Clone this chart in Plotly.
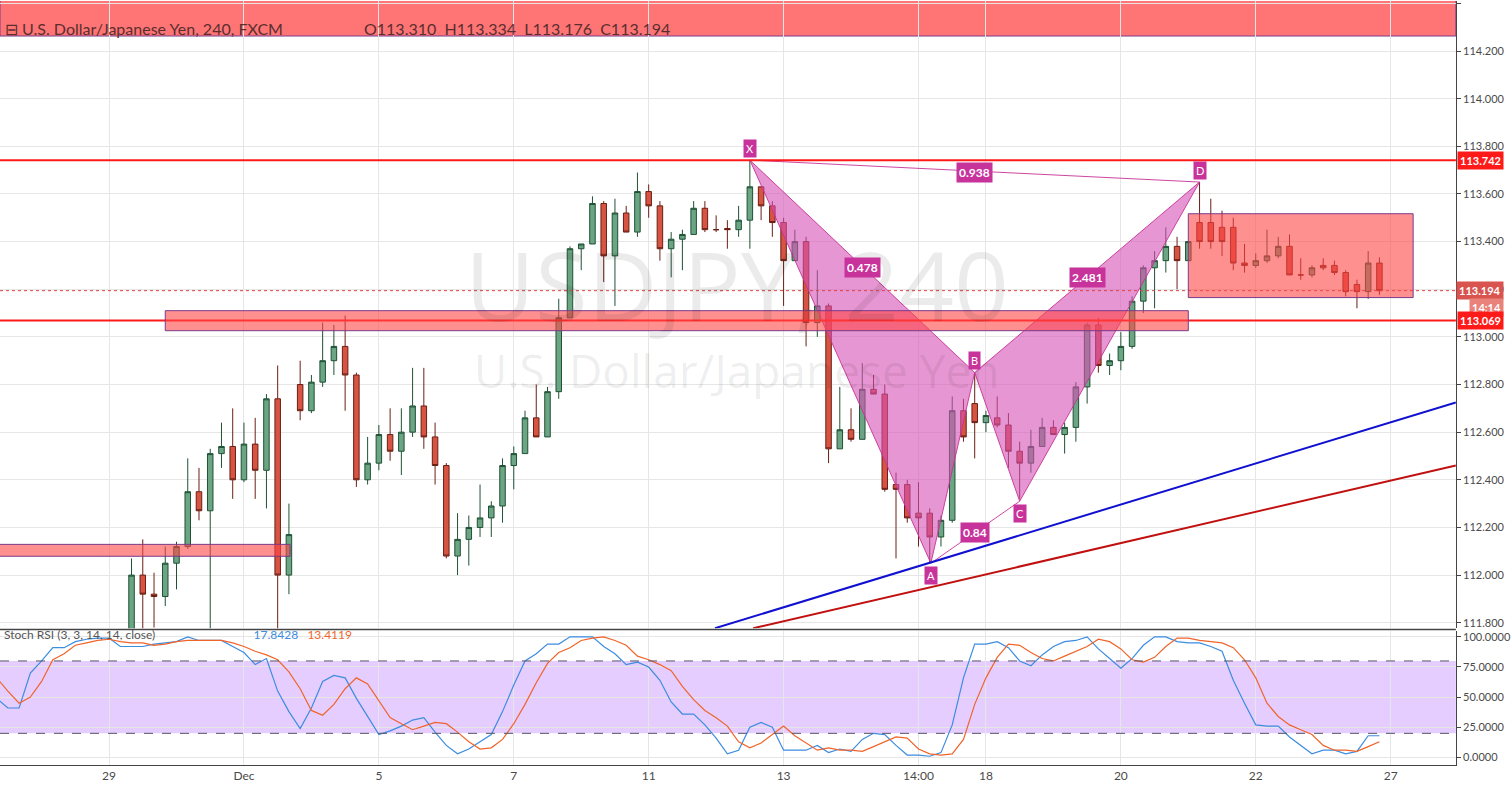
import plotly.graph_objects as go

# 4h candles, index 0 = first visible bar (29 Nov)
opens = [111.72, 112.00, 111.92, 111.91, 112.05, 112.12, 112.35, 112.27, 112.51, 112.54,
         112.40, 112.55, 112.44, 112.74, 112.00, 112.80, 112.69, 112.81, 112.90, 112.96,
         112.84, 112.40, 112.47, 112.59, 112.52, 112.60, 112.71, 112.58, 112.46, 112.08,
         112.15, 112.20, 112.24, 112.29, 112.46, 112.51, 112.66, 112.58, 112.77, 113.08,
         113.37, 113.39, 113.56, 113.34, 113.52, 113.44, 113.61, 113.55, 113.37, 113.41,
         113.43, 113.54, 113.45, 113.455, 113.45, 113.49, 113.63, 113.55, 113.48, 113.32,
         113.40, 113.06, 113.13, 112.53, 112.61, 112.57, 112.78, 112.76, 112.38, 112.38,
         112.26, 112.26, 112.16, 112.23, 112.69, 112.72, 112.64, 112.66, 112.63, 112.52,
         112.47, 112.54, 112.62, 112.59, 112.62, 112.79, 113.05, 112.88, 112.90, 112.96,
         113.15, 113.29, 113.32, 113.38, 113.32, 113.48, 113.48, 113.46, 113.46, 113.31,
         113.30, 113.32, 113.34, 113.38, 113.26, 113.26, 113.30, 113.30, 113.27, 113.22,
         113.19, 113.31]
highs = [112.07, 112.15, 112.01, 112.12, 112.14, 112.49, 112.45, 112.53, 112.64, 112.70,
         112.64, 112.66, 112.76, 112.88, 112.30, 112.90, 112.84, 113.06, 113.05, 113.09,
         112.85, 112.58, 112.63, 112.70, 112.70, 112.87, 112.87, 112.64, 112.47, 112.26,
         112.25, 112.38, 112.31, 112.49, 112.54, 112.69, 112.80, 112.79, 113.16, 113.38,
         113.39, 113.59, 113.57, 113.58, 113.55, 113.69, 113.64, 113.57, 113.44, 113.45,
         113.57, 113.57, 113.51, 113.49, 113.55, 113.742, 113.63, 113.57, 113.50, 113.45,
         113.42, 113.28, 113.14, 112.79, 112.70, 112.89, 112.84, 112.80, 112.43, 112.40,
         112.39, 112.28, 112.25, 112.75, 112.74, 112.85, 112.69, 112.75, 112.68, 112.56,
         112.61, 112.66, 112.65, 112.64, 112.81, 113.06, 113.08, 112.93, 113.02, 113.17,
         113.30, 113.36, 113.46, 113.42, 113.40, 113.65, 113.58, 113.53, 113.50, 113.39,
         113.35, 113.45, 113.42, 113.43, 113.33, 113.30, 113.33, 113.32, 113.28, 113.24,
         113.36, 113.334]
lows = [111.60, 111.70, 111.78, 111.87, 111.94, 112.11, 112.23, 111.70, 112.45, 112.32,
        112.39, 112.32, 112.28, 111.70, 111.92, 112.65, 112.68, 112.79, 112.84, 112.69,
        112.37, 112.38, 112.44, 112.48, 112.42, 112.58, 112.53, 112.38, 112.07, 112.00,
        112.04, 112.16, 112.16, 112.22, 112.36, 112.51, 112.58, 112.58, 112.74, 113.08,
        113.28, 113.39, 113.23, 113.13, 113.44, 113.42, 113.50, 113.32, 113.25, 113.28,
        113.43, 113.44, 113.44, 113.37, 113.42, 113.37, 113.49, 113.42, 113.13, 113.32,
        112.96, 113.00, 112.47, 112.53, 112.56, 112.57, 112.76, 112.35, 112.07, 112.22,
        112.12, 112.05, 112.12, 112.22, 112.56, 112.49, 112.60, 112.62, 112.45, 112.32,
        112.43, 112.54, 112.59, 112.51, 112.56, 112.72, 112.85, 112.84, 112.86, 112.95,
        113.10, 113.12, 113.27, 113.20, 113.32, 113.37, 113.37, 113.34, 113.28, 113.27,
        113.29, 113.31, 113.33, 113.26, 113.24, 113.25, 113.28, 113.26, 113.17, 113.12,
        113.16, 113.176]
closes = [112.00, 111.92, 111.91, 112.05, 112.12, 112.35, 112.27, 112.51, 112.54, 112.40,
          112.55, 112.44, 112.74, 112.00, 112.17, 112.69, 112.81, 112.90, 112.96, 112.84,
          112.40, 112.47, 112.59, 112.52, 112.60, 112.71, 112.58, 112.46, 112.08, 112.15,
          112.20, 112.24, 112.29, 112.46, 112.51, 112.66, 112.58, 112.77, 113.08, 113.37,
          113.39, 113.56, 113.34, 113.52, 113.44, 113.61, 113.55, 113.37, 113.41, 113.43,
          113.54, 113.45, 113.45, 113.45, 113.49, 113.63, 113.55, 113.48, 113.32, 113.40,
          113.06, 113.13, 112.53, 112.61, 112.57, 112.78, 112.76, 112.36, 112.36, 112.24,
          112.24, 112.16, 112.23, 112.69, 112.58, 112.64, 112.67, 112.63, 112.52, 112.47,
          112.54, 112.62, 112.59, 112.62, 112.79, 113.05, 112.88, 112.90, 112.96, 113.15,
          113.29, 113.32, 113.38, 113.32, 113.40, 113.40, 113.40, 113.40, 113.31, 113.30,
          113.32, 113.34, 113.38, 113.26, 113.26, 113.29, 113.29, 113.27, 113.19, 113.19,
          113.31, 113.194]
bar_idx = list(range(len(opens)))

# stochastic RSI (K blue, D orange), sampled at bar index
stoch_idx = list(range(-12, 112))
stoch_k = [49, 41, 41, 70, 80, 91, 91, 96, 98, 99, 99, 92, 92, 92, 94, 95, 96, 100, 97, 97,
           97, 92, 87, 77, 82, 55, 38, 24, 41, 63, 68, 66, 49, 34, 19, 22, 26, 31, 33, 21,
           10, 3, 7, 13, 19, 38, 60, 80, 86, 94, 94, 100, 100, 100, 92, 86, 77, 79, 75, 64,
           46, 36, 36, 27, 16, 3, 6, 25, 29, 25, 6, 6, 6, 10, 4, 7, 5, 15, 20, 19,
           10, 2, 2, 1, 4, 27, 66, 94, 94, 96, 91, 80, 76, 85, 92, 96, 97, 100, 90, 82,
           74, 82, 93, 100, 100, 96, 95, 95, 92, 88, 64, 45, 27, 26, 26, 17, 10, 3, 6, 6,
           3, 5, 18, 18]
stoch_d = [66, 55, 45, 50, 63, 81, 86, 93, 95, 97, 98, 96, 95, 95, 93, 94, 96, 97, 97, 97,
           97, 95, 92, 88, 85, 81, 71, 57, 39, 35, 44, 57, 66, 61, 47, 33, 28, 23, 26, 29,
           28, 21, 13, 7, 8, 15, 28, 44, 62, 78, 87, 91, 97, 99, 100, 97, 93, 84, 81, 77,
           72, 59, 48, 39, 33, 26, 13, 8, 12, 19, 26, 18, 12, 6, 8, 6, 6, 5, 9, 13,
           17, 16, 7, 3, 2, 3, 15, 44, 66, 83, 94, 93, 87, 82, 80, 84, 88, 92, 98, 96,
           90, 81, 79, 83, 92, 99, 99, 97, 96, 95, 91, 81, 66, 45, 34, 27, 23, 19, 10, 6,
           6, 5, 9, 13]

# harmonic pattern points
pat_names = ["X", "A", "B", "C", "D"]
pat_idx = [55, 71.1, 75, 79, 95]
pat_price = [113.742, 112.05, 112.85, 112.31, 113.65]

# levels / trend lines
res_level = 113.742
sup_level = 113.069
last_close = 113.194
blue_idx, blue_px = [51.9, 117.8], [111.777, 112.725]
red_idx, red_px = [55.3, 117.8], [111.777, 112.46]

date_ticks = [-2, 10, 22, 34, 46, 58, 70, 76, 88, 100, 112]
date_labels = ["29", "Dec", "5", "7", "11", "13", "14:00", "18", "20", "22", "27"]
price_ticks = [round(111.8 + 0.2 * k, 1) for k in range(14)]

GRID = "#e6e6e6"
PINK = "#c8329b"
fig = go.Figure()

fig.add_trace(go.Candlestick(
    x=bar_idx, open=opens, high=highs, low=lows, close=closes,
    increasing=dict(line=dict(color="#1f5135", width=1), fillcolor="#6ba583"),
    decreasing=dict(line=dict(color="#6b1f14", width=1), fillcolor="#d75442"),
    whiskerwidth=0, showlegend=False, hoverinfo="skip", xaxis="x", yaxis="y",
))

# pattern fills X-A-B and B-C-D
fig.add_trace(go.Scatter(x=pat_idx[0:3] + [pat_idx[0]], y=pat_price[0:3] + [pat_price[0]],
                         fill="toself", fillcolor="rgba(214,80,180,0.6)", mode="lines",
                         line=dict(color="rgba(200,50,150,0.9)", width=1), showlegend=False, hoverinfo="skip"))
fig.add_trace(go.Scatter(x=pat_idx[2:5] + [pat_idx[2]], y=pat_price[2:5] + [pat_price[2]],
                         fill="toself", fillcolor="rgba(214,80,180,0.6)", mode="lines",
                         line=dict(color="rgba(200,50,150,0.9)", width=1), showlegend=False, hoverinfo="skip"))
for a, b in [(0, 4), (1, 3)]:
    fig.add_trace(go.Scatter(x=[pat_idx[a], pat_idx[b]], y=[pat_price[a], pat_price[b]], mode="lines",
                             line=dict(color="rgba(200,50,150,0.9)", width=1), showlegend=False, hoverinfo="skip"))

fig.add_trace(go.Scatter(x=blue_idx, y=blue_px, mode="lines", line=dict(color="#1010d0", width=2),
                         showlegend=False, hoverinfo="skip"))
fig.add_trace(go.Scatter(x=red_idx, y=red_px, mode="lines", line=dict(color="#c01010", width=2),
                         showlegend=False, hoverinfo="skip"))

# stoch rsi
fig.add_trace(go.Scatter(x=stoch_idx, y=stoch_k, mode="lines", line=dict(color="#3c8ce0", width=1.2),
                         xaxis="x2", yaxis="y2", showlegend=False, hoverinfo="skip"))
fig.add_trace(go.Scatter(x=stoch_idx, y=stoch_d, mode="lines", line=dict(color="#f0642a", width=1.2),
                         xaxis="x2", yaxis="y2", showlegend=False, hoverinfo="skip"))

shapes = [
    dict(type="rect", xref="paper", x0=0, x1=0.968, yref="y", y0=114.263, y1=114.5,
         fillcolor="rgba(255,82,82,0.8)", line=dict(color="#7a3a8a", width=1), layer="below"),
    dict(type="line", xref="paper", x0=0, x1=0.968, yref="y", y0=res_level, y1=res_level,
         line=dict(color="#ff1a1a", width=2)),
    dict(type="line", xref="paper", x0=0, x1=0.968, yref="y", y0=sup_level, y1=sup_level,
         line=dict(color="#ff1a1a", width=2)),
    dict(type="line", xref="paper", x0=0, x1=0.968, yref="y", y0=last_close, y1=last_close,
         line=dict(color="#e04040", width=1, dash="dot")),
    dict(type="rect", xref="x", x0=3.0, x1=94.0, yref="y", y0=113.026, y1=113.110,
         fillcolor="rgba(255,70,70,0.6)", line=dict(color="#7a3a8a", width=1)),
    dict(type="rect", xref="x", x0=-13, x1=14.1, yref="y", y0=112.079, y1=112.129,
         fillcolor="rgba(255,70,70,0.6)", line=dict(color="#7a3a8a", width=1)),
    dict(type="rect", xref="x", x0=94.0, x1=114.0, yref="y", y0=113.165, y1=113.517,
         fillcolor="rgba(255,70,70,0.6)", line=dict(color="#7a3a8a", width=1)),
    dict(type="rect", xref="paper", x0=0, x1=0.968, yref="y2", y0=20, y1=80,
         fillcolor="rgba(190,130,255,0.4)", line=dict(width=0), layer="below"),
    dict(type="line", xref="paper", x0=0, x1=0.968, yref="y2", y0=80, y1=80,
         line=dict(color="#555566", width=1, dash="dash")),
    dict(type="line", xref="paper", x0=0, x1=0.968, yref="y2", y0=20, y1=20,
         line=dict(color="#555566", width=1, dash="dash")),
    dict(type="line", xref="paper", x0=0, x1=0.968, yref="paper", y0=0.1995, y1=0.1995,
         line=dict(color="#444", width=1.5)),
]

ann = []
ann.append(dict(text="USDJPY, 240", x=0.49, y=0.64, xref="paper", yref="paper", showarrow=False,
                font=dict(size=96, color="rgba(0,0,0,0.08)", family="Open Sans")))
ann.append(dict(text="U.S. Dollar/Japanese Yen", x=0.49, y=0.53, xref="paper", yref="paper", showarrow=False,
                font=dict(size=46, color="rgba(0,0,0,0.08)", family="Open Sans")))
ann.append(dict(text="⊟ U.S. Dollar/Japanese Yen, 240, FXCM", x=0.002, y=0.979, xref="paper", yref="paper",
                xanchor="left", showarrow=False, font=dict(size=16, color="#5a2e2e", family="Lato")))
ann.append(dict(text="O113.310  H113.334  L113.176  C113.194", x=0.241, y=0.979, xref="paper", yref="paper",
                xanchor="left", showarrow=False, font=dict(size=16, color="#5a2e2e", family="Lato")))
ann.append(dict(text="Stoch RSI (3, 3, 14, 14, close)" + "&nbsp;" * 32
                + "<span style='color:#3c8ce0'>17.8428</span>&nbsp;&nbsp;&nbsp;<span style='color:#f0642a'>13.4119</span>",
                x=0.001, y=0.181, xref="paper", yref="paper", xanchor="left", showarrow=False,
                font=dict(size=12, color="#555", family="Lato")))

shifts = [12, -12, 12, -12, 12]
for n, xi, p, s in zip(pat_names, pat_idx, pat_price, shifts):
    ann.append(dict(text=n, x=xi, y=p, yshift=s, showarrow=False, bgcolor=PINK,
                    font=dict(color="white", size=11, family="Lato"), borderpad=2))
for t, xi, p in [("0.938", 75, 113.69), ("0.478", 65, 113.29), ("2.481", 85, 113.25), ("0.84", 75, 112.18)]:
    ann.append(dict(text="<b>" + t + "</b>", x=xi, y=p, showarrow=False, bgcolor=PINK,
                    font=dict(color="white", size=12, family="Lato"), borderpad=2))
for t, p, bg, ys in [("113.742", res_level, "#ff1a1a", 0), ("113.194", last_close, "#d9534f", 0),
                     ("14:14", last_close, "#e8827a", -17), ("113.069", sup_level, "#ff1a1a", 0)]:
    ann.append(dict(text="<b>" + t + "</b>", x=1.0, y=p, yshift=ys, xref="paper", yref="y", xanchor="right",
                    showarrow=False, bgcolor=bg, font=dict(color="white", size=11, family="Lato"), borderpad=2))

axis_font = dict(size=11, color="#4a4a4a", family="Lato")
fig.update_layout(
    width=1511, height=786, margin=dict(l=0, r=0, t=0, b=0),
    paper_bgcolor="white", plot_bgcolor="white",
    shapes=shapes, annotations=ann,
    xaxis=dict(domain=[0, 0.968], range=[-11.7, 117.8], tickvals=date_ticks, showticklabels=False,
               gridcolor=GRID, zeroline=False, rangeslider=dict(visible=False), anchor="y"),
    yaxis=dict(domain=[0.201, 1], range=[111.777, 114.41], side="right", tickvals=price_ticks,
               tickformat=".3f", gridcolor=GRID, zeroline=False, showline=True, linecolor="#444",
               ticks="outside", ticklen=4, tickfont=axis_font, anchor="x"),
    xaxis2=dict(domain=[0, 0.968], range=[-11.7, 117.8], tickvals=date_ticks, ticktext=date_labels,
                gridcolor=GRID, zeroline=False, showline=True, linecolor="#444",
                tickfont=dict(size=12, color="#4a4a4a", family="Lato"), anchor="y2"),
    yaxis2=dict(domain=[0.027, 0.198], range=[-6.1, 105.2], side="right", tickvals=[0, 25, 50, 75, 100],
                tickformat=".4f", gridcolor=GRID, zeroline=False, showline=True, linecolor="#444",
                ticks="outside", ticklen=4, tickfont=axis_font, anchor="x2"),
)

fig.write_html("out.html", config={"displayModeBar": False},
               post_script="document.body.style.margin='0';")
